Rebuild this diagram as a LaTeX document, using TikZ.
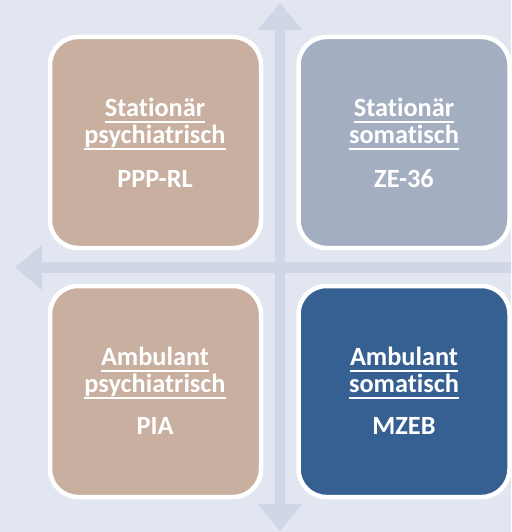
\documentclass[tikz,border=0pt]{standalone}
\usepackage{fontspec}
\setmainfont{Carlito}[Ligatures=NoCommon]
\usetikzlibrary{arrows.meta}
\definecolor{bgc}{HTML}{E2E6F1}
\definecolor{axisc}{HTML}{CFD7E7}
\definecolor{tanc}{HTML}{C9AF9F}
\definecolor{greyc}{HTML}{A4AEC1}
\definecolor{darkc}{HTML}{366092}
\newcommand\myul[1]{{\setbox0\hbox{#1}\rlap{\rule[-7pt]{\wd0}{2pt}}\box0}}
\tikzset{
  quad/.style={draw=white, line width=4.5pt, rounded corners=28pt,
    minimum width=211pt, minimum height=211pt, inner sep=0pt},
  lbl/.style={text=white, font=\fontsize{26.3}{27}\selectfont\bfseries, align=center, inner sep=0pt},
  axis/.style={axisc, line width=10.5pt,
    {Triangle[width=43pt,length=27pt]}-{Triangle[width=43pt,length=27pt]}}
}
\begin{document}
\begin{tikzpicture}[x=1pt,y=-1pt]
\fill[bgc] (0,0) rectangle (511,532);
\useasboundingbox (0,0) rectangle (511,532);
\begin{scope}
\clip (0,0) rectangle (511,532);
\coordinate (vt) at (280,3);
\coordinate (vb) at (280,531);
\coordinate (hl) at (15,267.5);
\coordinate (hr) at (545,267.5);
\draw[axis] (vt) -- (vb);
\draw[axis] (hl) -- (hr);
\end{scope}
\node[quad, fill=tanc] (tl) at (155.5,142.5) {};
\node[quad, fill=greyc] (tr) at (404,142.5) {};
\node[quad, fill=tanc] (bl) at (155.5,391.5) {};
\node[quad, fill=darkc] (br) at (404,391.5) {};
\node[lbl, anchor=base] (tlt) at (155,187) {\myul{Stationär}\\\myul{psychiatrisch}\\[17pt]PPP-RL};
\node[lbl, anchor=base] (trt) at (404,187) {\myul{Stationär}\\\myul{somatisch}\\[17pt]ZE-36};
\node[lbl, anchor=base] (blt) at (155,434) {\myul{Ambulant}\\\myul{psychiatrisch}\\[15pt]PIA};
\node[lbl, anchor=base] (brt) at (404,434) {\myul{Ambulant}\\\myul{somatisch}\\[15pt]MZEB};
\end{tikzpicture}
\end{document}
